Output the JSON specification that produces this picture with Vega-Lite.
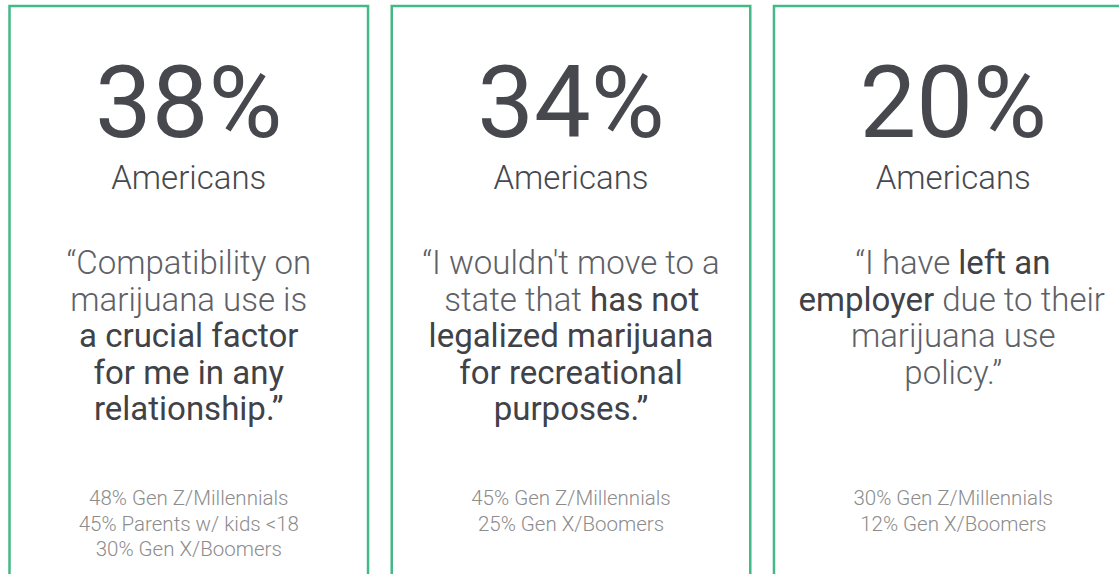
{
  "$schema": "https://vega.github.io/schema/vega-lite/v6.json",
  "width": 1119,
  "height": 574,
  "autosize": {"type": "fit", "contains": "padding"},
  "padding": {"top": 4, "left": 0, "right": 0, "bottom": -8},
  "background": "white",
  "config": {"view": {"stroke": null}, "font": "Roboto"},
  "datasets": {
    "panels": [
      {"panel": 1, "stat": "38%", "label": "Americans"},
      {"panel": 2, "stat": "34%", "label": "Americans"},
      {"panel": 3, "stat": "20%", "label": "Americans"}
    ],
    "quotes": [
      {"panel": 1, "line": 1, "seg": 0, "text": "“Compatibility on", "emph": "light"},
      {"panel": 1, "line": 2, "seg": 0, "text": "marijuana use is", "emph": "light"},
      {"panel": 1, "line": 3, "seg": 0, "text": "a crucial factor", "emph": "bold"},
      {"panel": 1, "line": 4, "seg": 0, "text": "for me in any", "emph": "bold"},
      {"panel": 1, "line": 5, "seg": 0, "text": "relationship.”", "emph": "bold"},
      {"panel": 2, "line": 1, "seg": 0, "text": "“I wouldn't move to a", "emph": "light"},
      {"panel": 2, "line": 2, "seg": 1, "text": "state that", "emph": "light"},
      {"panel": 2, "line": 2, "seg": 2, "text": "has not", "emph": "bold"},
      {"panel": 2, "line": 3, "seg": 0, "text": "legalized marijuana", "emph": "bold"},
      {"panel": 2, "line": 4, "seg": 0, "text": "for recreational", "emph": "bold"},
      {"panel": 2, "line": 5, "seg": 0, "text": "purposes.”", "emph": "bold"},
      {"panel": 3, "line": 1, "seg": 1, "text": "“I have", "emph": "light"},
      {"panel": 3, "line": 1, "seg": 2, "text": "left an", "emph": "bold"},
      {"panel": 3, "line": 2, "seg": 1, "text": "employer", "emph": "bold"},
      {"panel": 3, "line": 2, "seg": 2, "text": "due to their", "emph": "light"},
      {"panel": 3, "line": 3, "seg": 0, "text": "marijuana use", "emph": "light"},
      {"panel": 3, "line": 4, "seg": 0, "text": "policy.”", "emph": "light"}
    ],
    "groups": [
      {"panel": 1, "line": 1, "text": "48% Gen Z/Millennials"},
      {"panel": 1, "line": 2, "text": "45% Parents w/ kids <18"},
      {"panel": 1, "line": 3, "text": "30% Gen X/Boomers"},
      {"panel": 2, "line": 1, "text": "45% Gen Z/Millennials"},
      {"panel": 2, "line": 2, "text": "25% Gen X/Boomers"},
      {"panel": 3, "line": 1, "text": "30% Gen Z/Millennials"},
      {"panel": 3, "line": 2, "text": "12% Gen X/Boomers"}
    ]
  },
  "encoding": {
    "x": {
      "field": "panel",
      "type": "ordinal",
      "scale": {"domain": [1, 2, 3], "range": [9.5, 1132.5], "paddingInner": 0.062, "paddingOuter": 0},
      "axis": null
    }
  },
  "layer": [
    {
      "data": {"name": "panels"},
      "mark": {"type": "rect", "fill": "white", "stroke": "#43b987", "strokeWidth": 2.5}
    },
    {
      "data": {"name": "panels"},
      "transform": [{"fold": ["stat", "label"], "as": ["part", "value"]}],
      "mark": {
        "type": "text",
        "baseline": "alphabetic",
        "align": "center",
        "color": "#46484e",
        "fontWeight": {"expr": "datum.part == 'stat' ? 400 : 300"},
        "fontSize": {"expr": "datum.part == 'stat' ? 101 : 33"}
      },
      "encoding": {
        "y": {
          "field": "part",
          "type": "ordinal",
          "scale": {"type": "point", "domain": ["stat", "label"], "range": [131, 183], "padding": 0},
          "axis": null
        },
        "text": {"field": "value"}
      }
    },
    {
      "data": {"name": "quotes"},
      "mark": {
        "type": "text",
        "baseline": "alphabetic",
        "fontSize": 33,
        "align": {"expr": "datum.seg == 1 ? 'right' : datum.seg == 2 ? 'left' : 'center'"},
        "dx": {"expr": "datum.seg == 0 ? 0 : (datum.panel == 2 ? 15 : datum.line == 1 ? 1 : -15) + (datum.seg == 1 ? -4 : 4)"},
        "fontWeight": {"expr": "datum.emph == 'bold' ? 400 : 300"}
      },
      "encoding": {
        "y": {
          "field": "line",
          "type": "quantitative",
          "scale": {"domain": [1, 5], "range": [268, 414], "zero": false, "nice": false},
          "axis": null
        },
        "text": {"field": "text"},
        "color": {
          "field": "emph",
          "type": "nominal",
          "scale": {"domain": ["light", "bold"], "range": ["#5d6066", "#404248"]},
          "legend": null
        }
      }
    },
    {
      "data": {"name": "groups"},
      "mark": {
        "type": "text",
        "baseline": "alphabetic",
        "align": "center",
        "fontSize": 20.5,
        "fontWeight": 300,
        "color": "#8c8c8c"
      },
      "encoding": {
        "y": {
          "field": "line",
          "type": "quantitative",
          "scale": {"domain": [1, 3], "range": [499, 550], "zero": false, "nice": false},
          "axis": null
        },
        "text": {"field": "text"}
      }
    }
  ],
  "resolve": {"scale": {"y": "independent"}}
}
